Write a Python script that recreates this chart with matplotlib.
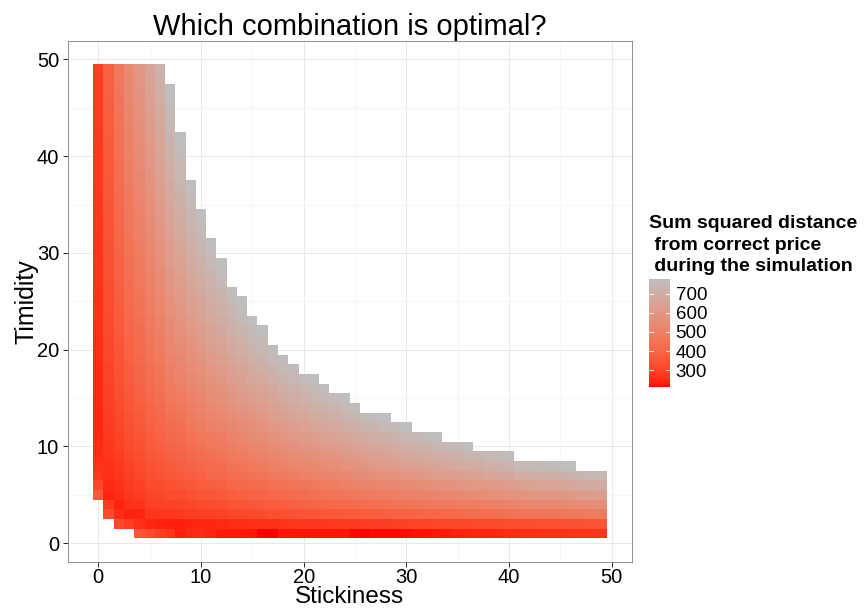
import numpy as np
import matplotlib
matplotlib.use("Agg")
import matplotlib.pyplot as plt
from matplotlib import transforms
from matplotlib.colors import ListedColormap

plt.rcParams["font.family"] = ["Liberation Sans", "DejaVu Sans"]

# stickiness values on the x axis (one column of tiles each)
stickiness = np.arange(50)

# lowest timidity that has a result for each stickiness column
timidity_start = [5, 3, 2, 2] + [1] * 46

# sum of squared distance from the correct price, per column, from timidity_start upward
sq_distance = [
    [360, 305, 276, 263, 256, 251, 248, 246, 247, 248, 249, 250, 251, 252, 254, 255, 256, 257, 258, 259, 260, 262, 263,
     264, 265, 266, 267, 269, 270, 271, 272, 273, 274, 276, 277, 278, 279, 280, 281, 283, 284, 285, 286, 287, 289],
    [325, 282, 241, 251, 258, 263, 268, 272, 277, 281, 285, 288, 292, 296, 299, 302, 306, 309, 312, 315, 318, 321, 324,
     327, 330, 332, 335, 338, 341, 343, 346, 349, 351, 354, 356, 359, 361, 364, 366, 369, 371, 373, 376, 378, 380, 383,
     385],
    [310, 255, 237, 253, 263, 272, 280, 287, 294, 300, 307, 313, 318, 324, 329, 335, 340, 345, 350, 355, 360, 364, 369,
     374, 378, 383, 387, 391, 396, 400, 404, 408, 412, 417, 421, 425, 429, 432, 436, 440, 444, 448, 452, 455, 459, 463,
     466, 470],
    [285, 238, 259, 272, 283, 293, 302, 311, 319, 327, 334, 342, 349, 356, 363, 369, 376, 382, 389, 395, 401, 407, 413,
     418, 424, 430, 435, 441, 446, 451, 457, 462, 467, 472, 477, 483, 488, 492, 497, 502, 507, 512, 517, 521, 526, 531,
     536, 540],
    [350, 258, 242, 266, 281, 294, 306, 317, 327, 337, 346, 355, 363, 372, 380, 388, 396, 403, 411, 418, 425, 432, 439,
     446, 453, 459, 466, 472, 479, 485, 491, 498, 504, 510, 516, 522, 528, 534, 539, 545, 551, 557, 562, 568, 573, 579,
     584, 590, 595],
    [320, 244, 272, 289, 304, 317, 330, 341, 352, 363, 373, 383, 393, 402, 411, 420, 429, 437, 446, 454, 462, 470, 478,
     486, 493, 501, 508, 516, 523, 530, 537, 544, 551, 558, 565, 572, 578, 585, 592, 598, 605, 611, 618, 624, 630, 637,
     643, 649, 655],
    [290, 240, 272, 292, 309, 325, 339, 352, 365, 378, 389, 401, 412, 423, 433, 444, 454, 463, 473, 483, 492, 501, 510,
     519, 528, 537, 545, 554, 562, 571, 579, 587, 595, 603, 611, 619, 626, 634, 642, 649, 657, 664, 672, 679, 686, 694,
     701, 708, 715],
    [270, 236, 273, 297, 317, 335, 351, 367, 382, 396, 410, 423, 436, 449, 461, 473, 484, 496, 507, 518, 529, 540, 550,
     561, 571, 581, 591, 601, 611, 621, 630, 640, 649, 658, 668, 677, 686, 695, 703, 712, 721, 730, 738, 747, 755, 764,
     772],
    [235, 238, 279, 304, 326, 345, 363, 380, 397, 412, 427, 442, 456, 469, 483, 496, 508, 521, 533, 545, 557, 569, 580,
     591, 603, 614, 624, 635, 646, 656, 667, 677, 687, 697, 707, 717, 727, 737, 747, 756, 766, 775],
    [250, 241, 285, 313, 336, 357, 377, 396, 413, 430, 446, 462, 477, 492, 507, 521, 534, 548, 561, 574, 587, 600, 612,
     625, 637, 649, 661, 672, 684, 695, 707, 718, 729, 740, 751, 761, 772],
    [250, 243, 290, 319, 344, 367, 388, 408, 426, 444, 462, 478, 495, 510, 526, 541, 555, 570, 584, 598, 612, 625, 638,
     651, 664, 677, 690, 702, 714, 727, 739, 751, 762, 774],
    [245, 246, 296, 327, 354, 378, 400, 421, 441, 460, 478, 496, 513, 530, 547, 563, 578, 594, 609, 623, 638, 652, 667,
     680, 694, 708, 721, 734, 747, 760, 773],
    [230, 248, 300, 333, 361, 386, 410, 432, 453, 473, 492, 510, 529, 546, 563, 580, 597, 613, 629, 644, 659, 674, 689,
     704, 718, 732, 746, 760, 774],
    [230, 252, 308, 343, 373, 400, 425, 448, 471, 492, 513, 533, 552, 571, 589, 607, 625, 642, 659, 676, 692, 708, 724,
     739, 755, 770],
    [228, 254, 312, 348, 380, 407, 433, 458, 481, 503, 525, 545, 566, 585, 604, 623, 641, 659, 677, 694, 711, 727, 744,
     760, 776],
    [226, 257, 318, 357, 390, 419, 447, 473, 497, 521, 543, 565, 586, 607, 627, 647, 666, 685, 704, 722, 740, 758, 775],
    [212, 259, 323, 362, 396, 427, 455, 482, 507, 532, 555, 578, 600, 621, 642, 663, 683, 702, 721, 740, 759, 777],
    [213, 262, 329, 370, 406, 438, 468, 496, 522, 548, 572, 596, 619, 642, 664, 685, 706, 726, 746, 766],
    [225, 265, 334, 377, 414, 448, 479, 508, 535, 562, 587, 612, 636, 659, 682, 704, 726, 747, 768],
    [224, 268, 339, 384, 422, 456, 488, 518, 546, 573, 600, 625, 650, 674, 697, 720, 742, 764],
    [224, 270, 344, 390, 429, 464, 497, 528, 557, 586, 613, 639, 664, 689, 713, 737, 760],
    [225, 272, 348, 395, 435, 472, 506, 537, 568, 597, 624, 652, 678, 703, 728, 752, 776],
    [224, 276, 354, 403, 444, 482, 516, 549, 580, 610, 639, 666, 693, 720, 745, 770],
    [225, 278, 358, 408, 451, 489, 525, 558, 590, 621, 650, 679, 707, 734, 760],
    [224, 280, 362, 414, 457, 497, 534, 568, 601, 632, 663, 692, 720, 748, 775],
    [216, 284, 368, 421, 466, 506, 544, 579, 613, 645, 676, 706, 736, 764],
    [216, 286, 373, 427, 474, 516, 554, 591, 626, 659, 691, 722, 752],
    [217, 289, 378, 433, 480, 523, 563, 600, 635, 669, 702, 733, 764],
    [217, 291, 382, 438, 486, 530, 570, 608, 645, 679, 712, 745, 776],
    [218, 294, 387, 444, 494, 538, 580, 619, 656, 691, 725, 758],
    [219, 297, 392, 451, 502, 547, 589, 629, 667, 703, 738, 772],
    [222, 299, 395, 456, 507, 554, 597, 637, 676, 713, 748],
    [224, 302, 401, 463, 515, 563, 607, 648, 688, 726, 762],
    [228, 305, 406, 469, 523, 572, 617, 659, 699, 738, 775],
    [232, 307, 409, 473, 528, 577, 622, 665, 706, 745],
    [235, 310, 415, 480, 536, 586, 632, 676, 718, 758],
    [238, 313, 420, 486, 543, 594, 642, 687, 729, 770],
    [241, 315, 423, 490, 547, 599, 647, 692, 735],
    [244, 318, 428, 496, 555, 607, 656, 702, 746],
    [247, 320, 432, 502, 562, 615, 665, 712, 757],
    [250, 323, 437, 508, 569, 624, 675, 722, 768],
    [253, 326, 446, 520, 584, 642, 695, 745],
    [255, 328, 449, 525, 589, 647, 701, 752],
    [257, 331, 453, 529, 594, 653, 707, 758],
    [259, 334, 456, 533, 598, 657, 712, 763],
    [261, 336, 459, 536, 602, 661, 716, 768],
    [263, 339, 463, 541, 607, 667, 722, 774],
    [265, 341, 469, 548, 617, 678, 735],
    [267, 344, 473, 554, 622, 684, 742],
    [269, 347, 477, 558, 628, 690, 748],
]

legend_ticks = [300, 400, 500, 600, 700]


def srgb_to_lab(rgb):
    rgb = np.asarray(rgb, float)
    lin = np.where(rgb <= 0.04045, rgb / 12.92, ((rgb + 0.055) / 1.055) ** 2.4)
    m = np.array([[0.4124, 0.3576, 0.1805], [0.2126, 0.7152, 0.0722], [0.0193, 0.1192, 0.9505]])
    xyz = (m @ lin) / np.array([0.95047, 1.0, 1.08883])
    f = np.where(xyz > 0.008856, np.cbrt(xyz), 7.787 * xyz + 16 / 116)
    return np.array([116 * f[1] - 16, 500 * (f[0] - f[1]), 200 * (f[1] - f[2])])


def lab_to_srgb(lab):
    fy = (lab[0] + 16) / 116
    f = np.array([fy + lab[1] / 500, fy, fy - lab[2] / 200])
    xyz = np.where(f ** 3 > 0.008856, f ** 3, (f - 16 / 116) / 7.787) * np.array([0.95047, 1.0, 1.08883])
    m = np.array([[3.2406, -1.5372, -0.4986], [-0.9689, 1.8758, 0.0415], [0.0557, -0.2040, 1.0570]])
    lin = np.clip(m @ xyz, 0, 1)
    return np.where(lin <= 0.0031308, 12.92 * lin, 1.055 * lin ** (1 / 2.4) - 0.055).clip(0, 1)


# red -> grey gradient blended in Lab space
lab_lo = srgb_to_lab([1.0, 0.0, 0.0])
lab_hi = srgb_to_lab([190 / 255, 190 / 255, 190 / 255])
ramp = [lab_to_srgb(lab_lo + (lab_hi - lab_lo) * t) for t in np.linspace(0, 1, 256)]
red_grey = ListedColormap(ramp)

# fill the tile grid (rows = timidity 1..49, cols = stickiness)
grid = np.full((49, len(stickiness)), np.nan)
for x, (y0, vals) in enumerate(zip(timidity_start, sq_distance)):
    grid[y0 - 1:y0 - 1 + len(vals), x] = vals

fig = plt.figure(figsize=(8.65, 6.10), dpi=100)
ax = fig.add_axes([67.5 / 865, 48 / 610, 564.8 / 865, 521.4 / 610])

mesh = ax.pcolormesh(np.arange(-0.5, 50), np.arange(0.5, 50), np.ma.masked_invalid(grid),
                     cmap=red_grey, vmin=np.nanmin(grid), vmax=np.nanmax(grid),
                     shading="flat", antialiased=False, zorder=2)

ax.set_xlim(-3, 52)
ax.set_ylim(-1.95, 51.95)
ax.set_xticks(range(0, 51, 10))
ax.set_yticks(range(0, 51, 10))
ax.set_xticks(range(5, 50, 10), minor=True)
ax.set_yticks(range(5, 50, 10), minor=True)
ax.grid(which="major", color="#E5E5E5", lw=0.6, zorder=0)
ax.grid(which="minor", color="#F7F7F7", lw=1.0, zorder=0)
ax.set_axisbelow(True)
ax.tick_params(which="major", length=3.5, width=0.6, color="black", labelsize=14.5, pad=2.5)
ax.tick_params(axis="x", which="major", pad=1.0)
ax.tick_params(which="minor", length=0)
for sp in ax.spines.values():
    sp.set_color("#7F7F7F")
    sp.set_linewidth(0.6)

ax.set_title("Which combination is optimal?", fontsize=21, pad=4)
ax.set_xlabel("Stickiness", fontsize=17.5, labelpad=-1)
ax.set_ylabel("Timidity", fontsize=18, labelpad=-1)

# colour bar legend
cax = fig.add_axes([649 / 865, 223 / 610, 21 / 865, 108 / 610])
cb = fig.colorbar(mesh, cax=cax, ticks=legend_ticks)
cb.outline.set_visible(False)
cax.tick_params(length=0, pad=4, labelsize=13.5)
trans = transforms.blended_transform_factory(cax.transAxes, cax.transData)
for t in legend_ticks:
    cax.plot([0, 0.2], [t, t], color="white", lw=0.8, alpha=0.8, transform=trans)
    cax.plot([0.8, 1], [t, t], color="white", lw=0.8, alpha=0.8, transform=trans)

fig.text(649 / 865, 1 - 215 / 610, "Sum squared distance\n from correct price\n during the simulation",
         ha="left", va="top", fontsize=14, fontweight="bold", linespacing=1.36)

fig.savefig("out.png", dpi=100)
